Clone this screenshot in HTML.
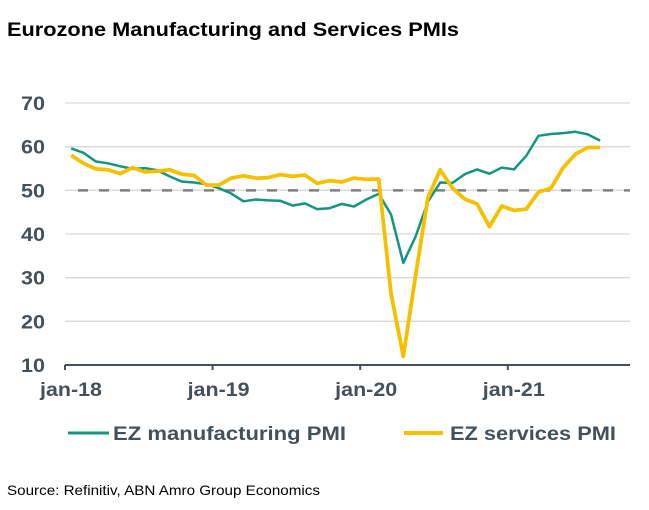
<!DOCTYPE html>
<html><head><meta charset="utf-8"><style>
body{margin:0;background:#fff;}
svg{display:block;font-family:"Liberation Sans",Arial,sans-serif;}
</style></head><body>
<svg id="chart" width="649" height="510" viewBox="0 0 649 510">
<text x="7" y="36" font-size="19" font-weight="bold" fill="#000" textLength="452" lengthAdjust="spacingAndGlyphs">Eurozone Manufacturing and Services PMIs</text>
<g id="grid"></g><g id="series"></g><g id="axis"></g>
<g>
<line x1="68" y1="433" x2="109" y2="433" stroke="#14957f" stroke-width="3"/>
<text x="113" y="440" font-size="19" font-weight="bold" fill="#44505a" textLength="233" lengthAdjust="spacingAndGlyphs">EZ manufacturing PMI</text>
<line x1="404" y1="433" x2="443" y2="433" stroke="#f5c000" stroke-width="4"/>
<text x="450" y="440" font-size="19" font-weight="bold" fill="#44505a" textLength="166" lengthAdjust="spacingAndGlyphs">EZ services PMI</text>
</g>
<text x="7" y="495" font-size="14" fill="#000" textLength="313" lengthAdjust="spacingAndGlyphs">Source: Refinitiv, ABN Amro Group Economics</text>
</svg>
<script>
const yTicks=[10,20,30,40,50,60,70];
const xTickLabels=["jan-18","jan-19","jan-20","jan-21"];
const manufacturing=[59.6,58.6,56.6,56.2,55.5,54.9,55.1,54.6,53.2,52.0,51.8,51.4,50.5,49.3,47.5,47.9,47.7,47.6,46.5,47.0,45.7,45.9,46.9,46.3,47.9,49.2,44.5,33.4,39.4,47.4,51.8,51.7,53.7,54.8,53.8,55.2,54.8,57.9,62.5,62.9,63.1,63.4,62.8,61.4];
const services=[58.0,56.2,54.9,54.7,53.8,55.2,54.2,54.4,54.7,53.7,53.4,51.2,51.2,52.8,53.3,52.8,52.9,53.6,53.2,53.5,51.6,52.2,51.9,52.8,52.5,52.6,26.4,12.0,30.5,48.3,54.7,50.5,48.0,46.9,41.7,46.4,45.4,45.7,49.6,50.5,55.2,58.3,59.8,59.8];
const threshold=50;
const NS="http://www.w3.org/2000/svg";
const x0=65,mw=12.3,xEnd=630;
function xPos(i){return x0+(i+0.5)*mw;}
function yPos(v){return 365-(v-10)*(262/60);}
function mk(t,a,p){const e=document.createElementNS(NS,t);for(const k in a)e.setAttribute(k,a[k]);p.appendChild(e);return e;}
const grid=document.getElementById('grid'),axis=document.getElementById('axis'),ser=document.getElementById('series');
yTicks.forEach(v=>{
 if(v>10){const l=mk('line',{x1:x0,x2:xEnd,y1:yPos(v),y2:yPos(v),stroke:'#d9d9d9','stroke-width':1.3},grid);
 
 }
 const t=mk('text',{x:45,y:yPos(v)+7,'font-size':19,'font-weight':'bold',fill:'#44505a','text-anchor':'end',textLength:24,lengthAdjust:'spacingAndGlyphs'},axis);
 t.textContent=v;
 
 
});
const th=mk('line',{x1:x0+13,x2:xEnd,y1:yPos(threshold),y2:yPos(threshold),stroke:'#808080','stroke-width':2.5,'stroke-dasharray':'10 11'},grid);


const ax=mk('line',{x1:x0,x2:xEnd,y1:365,y2:365,stroke:'#44505a','stroke-width':2},axis);


xTickLabels.forEach((s,k)=>{
 const x=x0+k*12*mw;
 const tk=mk('line',{x1:x,x2:x,y1:365,y2:370,stroke:'#44505a','stroke-width':2},axis);
 
 
 const t=mk('text',{x:x+6,y:396,'font-size':19,'font-weight':'bold',fill:'#44505a','text-anchor':'middle',textLength:62,lengthAdjust:'spacingAndGlyphs'},axis);
 t.textContent=s;
 
 
});
function line(arr,col,w,name){
 const p=mk('polyline',{points:arr.map((v,i)=>xPos(i).toFixed(1)+','+yPos(v).toFixed(1)).join(' '),fill:'none',stroke:col,'stroke-width':w,'stroke-linejoin':'round'},ser);
 
 
}
line(manufacturing,'#14957f',2.5,'manufacturing-pmi-line');
line(services,'#f5c000',3.8,'services-pmi-line');
</script>
</body></html>
